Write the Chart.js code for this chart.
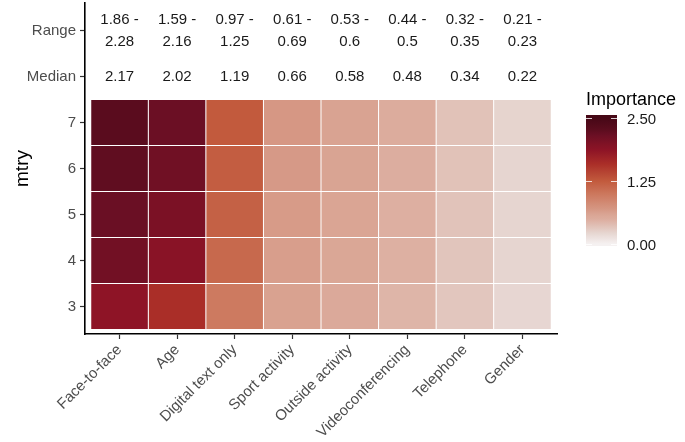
<!DOCTYPE html>
<html>
<head>
<meta charset="utf-8">
<script src="https://cdn.jsdelivr.net/npm/chart.js@4.4.0/dist/chart.umd.min.js"></script>
<style>
  html, body { margin: 0; padding: 0; background: #fff; }
</style>
</head>
<body>
<canvas id="heat" width="685" height="442"></canvas>
<script>
// predictors in x axis order
var predictors = ['Face-to-face', 'Age', 'Digital text only', 'Sport activity', 'Outside activity', 'Videoconferencing', 'Telephone', 'Gender'];
var mtryLevels = [3, 4, 5, 6, 7];

// importance of each predictor for every mtry value
var mtry3 = [1.86, 1.59, 0.97, 0.61, 0.53, 0.44, 0.32, 0.21];
var mtry4 = [2.10, 1.90, 1.12, 0.64, 0.56, 0.47, 0.33, 0.22];
var mtry5 = [2.17, 2.02, 1.19, 0.66, 0.58, 0.48, 0.34, 0.22];
var mtry6 = [2.24, 2.12, 1.22, 0.67, 0.59, 0.49, 0.35, 0.22];
var mtry7 = [2.28, 2.16, 1.25, 0.69, 0.60, 0.50, 0.35, 0.23];

// summary rows printed above the tiles
var rangeLow = ['1.86', '1.59', '0.97', '0.61', '0.53', '0.44', '0.32', '0.21'];
var rangeHigh = ['2.28', '2.16', '1.25', '0.69', '0.6', '0.5', '0.35', '0.23'];
var medians = ['2.17', '2.02', '1.19', '0.66', '0.58', '0.48', '0.34', '0.22'];

// y axis: mtry values, then the two summary rows
var yLabels = ['3', '4', '5', '6', '7', 'Median', 'Range'];

// colour bar
var legendTitle = 'Importance';
var legendTicks = [0, 1.25, 2.5];
var legendMax = 2.5;

var FONT = '"Liberation Sans", Arial, sans-serif';

// colour ramp (value -> rgb)
var colorStops = [
    [0.00, [245, 241, 241]],
    [0.22, [230, 213, 208]],
    [0.34, [225, 195, 186]],
    [0.50, [220, 172, 157]],
    [0.60, [217, 163, 146]],
    [0.68, [214, 152, 133]],
    [0.97, [205, 122, 96]],
    [1.25, [194, 90, 61]],
    [1.59, [170, 46, 40]],
    [1.86, [142, 20, 38]],
    [2.16, [107, 15, 36]],
    [2.28, [90, 12, 30]],
    [2.50, [70, 8, 22]]
];

function fillFor(v) {
    for (var i = 1; i < colorStops.length; i++) {
        if (v <= colorStops[i][0]) {
            var a = colorStops[i - 1], b = colorStops[i];
            var t = (v - a[0]) / (b[0] - a[0]);
            var c = a[1].map(function (ch, k) { return Math.round(ch + (b[1][k] - ch) * t); });
            return 'rgb(' + c.join(',') + ')';
        }
    }
    return 'rgb(' + colorStops[colorStops.length - 1][1].join(',') + ')';
}

var rows = [mtry3, mtry4, mtry5, mtry6, mtry7];
var datasets = rows.map(function (vals, r) {
    var level = mtryLevels[r];
    return {
        data: vals.map(function (v, i) { return { x: i, y: [level - 0.5, level + 0.5] }; }),
        backgroundColor: vals.map(fillFor),
        borderColor: 'rgba(255,255,255,0.3)',
        borderWidth: 0.5,
        borderSkipped: false,
        inflateAmount: 0,
        grouped: false,
        barPercentage: 1,
        categoryPercentage: 1
    };
});

// text rows and colour bar legend
var annotate = {
    id: 'annotate',
    afterDraw: function (chart) {
        var ctx = chart.ctx, xs = chart.scales.x, ys = chart.scales.y;
        ctx.save();
        ctx.fillStyle = '#1a1a1a';
        ctx.font = '15px ' + FONT;
        ctx.textAlign = 'center';
        ctx.textBaseline = 'middle';
        var yRange = ys.getPixelForValue(9);
        var yMed = ys.getPixelForValue(8);
        predictors.forEach(function (p, i) {
            var x = xs.getPixelForValue(i);
            ctx.fillText(rangeLow[i] + ' -', x, yRange - 11);
            ctx.fillText(rangeHigh[i], x, yRange + 11);
            ctx.fillText(medians[i], x, yMed);
        });

        // colour bar
        var bx = 586, bw = 31, btop = 115, bbot = 246;
        var vTop = 118, vBot = 244;
        var grad = ctx.createLinearGradient(0, vBot, 0, vTop);
        for (var k = 0; k <= 50; k++) {
            grad.addColorStop(k / 50, fillFor(legendMax * k / 50));
        }
        ctx.fillStyle = grad;
        ctx.fillRect(bx, btop, bw, bbot - btop);

        ctx.strokeStyle = 'rgba(255,255,255,0.8)';
        ctx.lineWidth = 1;
        ctx.textAlign = 'left';
        ctx.fillStyle = '#1a1a1a';
        legendTicks.forEach(function (v) {
            var y = Math.round(vBot - (v / legendMax) * (vBot - vTop)) + 0.5;
            ctx.beginPath();
            ctx.moveTo(bx, y); ctx.lineTo(bx + 6, y);
            ctx.moveTo(bx + bw - 6, y); ctx.lineTo(bx + bw, y);
            ctx.stroke();
            ctx.fillText(v.toFixed(2), 627, y + 1);
        });

        ctx.font = '18px ' + FONT;
        ctx.fillStyle = '#000';
        ctx.fillText(legendTitle, 586, 100);
        ctx.restore();
    }
};

var tickFont = { size: 15, family: FONT };

// keep the plot area where it is in the reference
function noPad(s) {
    s.paddingTop = 0; s.paddingBottom = 0; s.paddingLeft = 0; s.paddingRight = 0;
}

new Chart(document.getElementById('heat'), {
    type: 'bar',
    data: { datasets: datasets },
    plugins: [annotate],
    options: {
        responsive: false,
        animation: false,
        layout: { padding: { left: 0, right: 128, top: 3, bottom: 0 } },
        plugins: { legend: { display: false }, tooltip: { enabled: false } },
        scales: {
            x: {
                type: 'linear',
                min: -0.6,
                max: 7.6,
                bounds: 'data',
                offset: false,
                afterBuildTicks: function (s) {
                    s.ticks = predictors.map(function (p, i) { return { value: i }; });
                },
                afterFit: function (s) { s.height = 108; noPad(s); },
                ticks: {
                    autoSkip: false,
                    minRotation: 45,
                    maxRotation: 45,
                    padding: 2,
                    color: '#4d4d4d',
                    font: tickFont,
                    callback: function (v) { return predictors[v]; }
                },
                grid: { offset: false, drawOnChartArea: false, drawTicks: true, tickLength: 5, tickColor: '#333', tickWidth: 1.2 },
                border: { color: '#000', width: 1.6 }
            },
            y: {
                type: 'linear',
                min: 2.4,
                max: 9.6,
                bounds: 'data',
                beginAtZero: false,
                offset: false,
                afterBuildTicks: function (s) {
                    s.ticks = yLabels.map(function (l, i) { return { value: 3 + i }; });
                },
                afterFit: function (s) { s.width = 85; noPad(s); },
                ticks: {
                    autoSkip: false,
                    padding: 4,
                    color: '#4d4d4d',
                    font: tickFont,
                    callback: function (v) { return yLabels[v - 3]; }
                },
                grid: { offset: false, drawOnChartArea: false, drawTicks: true, tickLength: 5, tickColor: '#333', tickWidth: 1.2 },
                border: { color: '#000', width: 1.6 },
                title: { display: true, text: 'mtry', color: '#000', font: { size: 19, family: FONT }, padding: { top: 11 } }
            }
        }
    }
});
</script>
</body>
</html>
